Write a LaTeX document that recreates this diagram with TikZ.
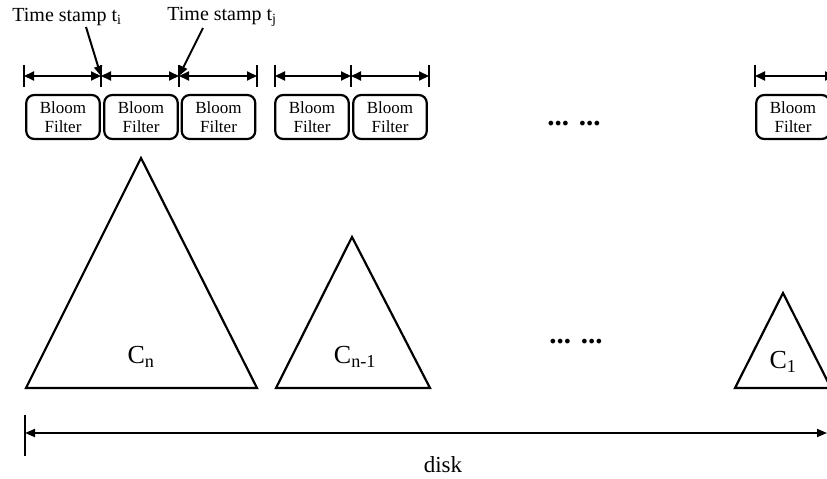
\documentclass[tikz,border=0pt]{standalone}
\usepackage{fontspec}
\setmainfont{Liberation Serif}
\usetikzlibrary{arrows.meta}
\begin{document}
\begin{tikzpicture}[x=1pt,y=-1pt,
  bf/.style={draw, line width=2.2pt, rounded corners=8pt, minimum width=73.5pt, minimum height=44pt, inner sep=0pt, align=center, font=\fontsize{17}{19.5}\selectfont},
  span/.style={line width=2pt, {Triangle[length=10pt,width=9pt]}-{Triangle[length=10pt,width=9pt]}},
  ticks/.style={line width=2pt},
  pointer/.style={line width=2pt, -{Triangle[length=10pt,width=8pt]}},
  tri/.style={draw, line width=2.2pt, line join=miter},
  lbl/.style={inner sep=0pt, font=\fontsize{20}{22}\selectfont},
  clabel/.style={inner sep=0pt, font=\fontsize{26}{28}\selectfont},
  dots/.style={inner sep=0pt, font=\fontsize{29}{30}\selectfont\bfseries},
  disklbl/.style={inner sep=0pt, font=\fontsize{23}{26}\selectfont}]
\useasboundingbox (0,0) rectangle (827,479);
\clip (0,0) rectangle (827,479);
% tick coordinates
\foreach \n/\x in {a/24,b/101,c/179,d/257,e/275,f/351,g/429,h/755,i/835}{
  \coordinate (t\n) at (\x,76);
  \coordinate (t\n u) at (\x,65);
  \coordinate (t\n d) at (\x,87);
  \draw[ticks] (t\n u) -- (t\n d);
}
\draw[span] (ta) -- (tb);
\draw[span] (tb) -- (tc);
\draw[span] (tc) -- (td);
\draw[span] (te) -- (tf);
\draw[span] (tf) -- (tg);
\draw[span] (th) -- (ti);
% bloom filters
\node[bf] (b1) at (63,117) {Bloom\\Filter};
\node[bf] (b2) at (141,117) {Bloom\\Filter};
\node[bf] (b3) at (218.5,117) {Bloom\\Filter};
\node[bf] (b4) at (312,117) {Bloom\\Filter};
\node[bf] (b5) at (390,117) {Bloom\\Filter};
\node[bf] (b6) at (793,117) {Bloom\\Filter};
% time stamps
\node[lbl] (tsi) at (67,17) {Time stamp t\textsubscript{i}};
\node[lbl] (tsj) at (222,17) {Time stamp t\textsubscript{j}};
\coordinate (pi) at (86,27);
\coordinate (pj) at (203,28);
\draw[pointer] (pi) -- (tb);
\draw[pointer] (pj) -- (tc);
% dots
\node[dots] (dt) at (574,124) {... ...};
\node[dots] (db) at (576,342) {... ...};
% triangles
\draw[tri] (141,158) -- (257,388) -- (26,388) -- cycle;
\node[clabel] (cn) at (141,357) {C\textsubscript{n}};
\draw[tri] (352,237) -- (430,388) -- (276,388) -- cycle;
\node[clabel] (cn1) at (355,357) {C\textsubscript{n-1}};
\draw[tri] (783,293) -- (831,388) -- (735,388) -- cycle;
\node[clabel] (c1) at (783,362) {C\textsubscript{1}};
% disk
\coordinate (dl) at (25,433);
\coordinate (dlu) at (25,415);
\coordinate (dld) at (25,456);
\coordinate (dr) at (827,433);
\draw[ticks] (dlu) -- (dld);
\draw[line width=1.8pt, {Triangle[length=10pt,width=8pt]}-{Triangle[length=10pt,width=8pt]}] (dl) -- (dr);
\node[disklbl] (disk) at (443,465) {disk};
\end{tikzpicture}
\end{document}
